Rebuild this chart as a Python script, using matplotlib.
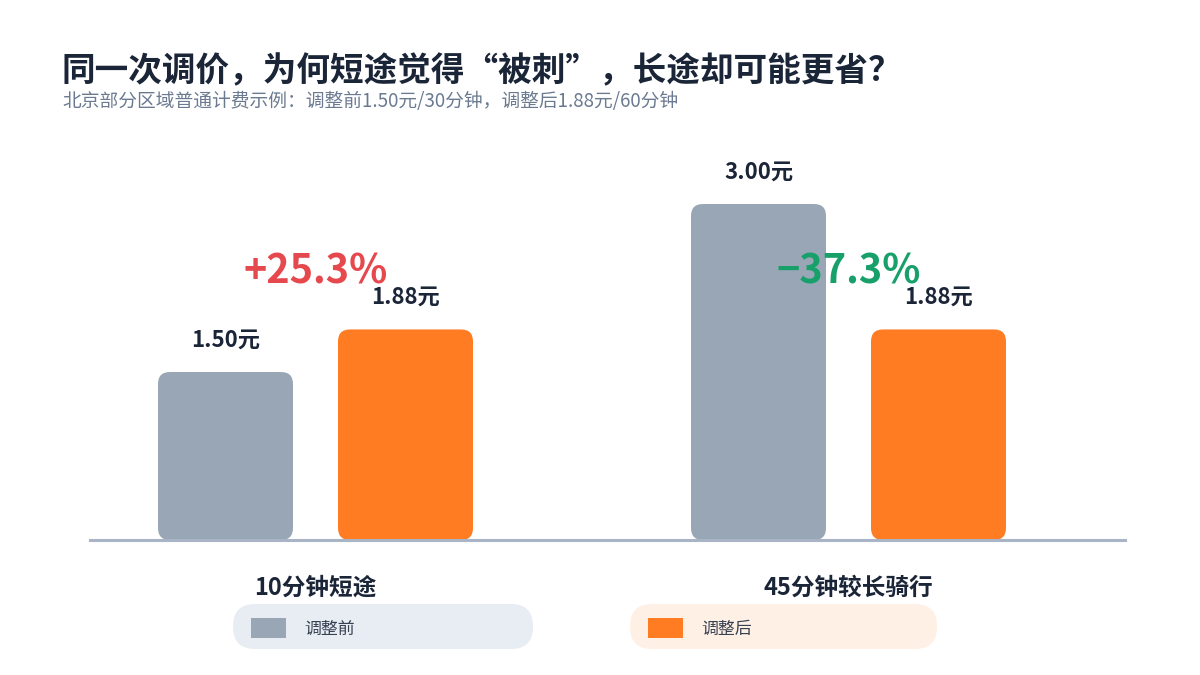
import matplotlib
matplotlib.use("Agg")
import matplotlib.pyplot as plt
from matplotlib.patches import FancyBboxPatch

plt.rcParams['font.family'] = ['Noto Sans CJK SC', 'DejaVu Sans']

# ---- data ----
categories = ["10分钟短途", "45分钟较长骑行"]
before = [1.50, 3.00]
after = [1.88, 1.88]
series_names = ["调整前", "调整后"]
pct_labels = ["+25.3%", "−37.3%"]
title = "同一次调价，为何短途觉得“被刺”，长途却可能更省？"
subtitle = "北京部分区域普通计费示例：调整前1.50元/30分钟，调整后1.88元/60分钟"

# ---- style ----
C_BEFORE = "#98A6B6"
C_AFTER = "#FF7C22"
C_UP = "#E5484D"
C_DOWN = "#17A06A"
C_TEXT = "#1B2538"
C_SUB = "#6B7A90"
C_AXIS = "#A9B5C7"

W, H = 1200, 675
fig = plt.figure(figsize=(12, 6.75), dpi=100)
fig.patch.set_facecolor("white")

# main axes: baseline at y=540px, 112px per unit; x from 90 to 1125 px
ax_left, ax_right = 90, 1125
base_px, top_px = 540, 120
ax = fig.add_axes([ax_left / W, (H - base_px) / H, (ax_right - ax_left) / W, (base_px - top_px) / H])
xpx_per_unit = 533.0
ypx_per_unit = (base_px - top_px) / 3.75
ax.set_xlim(-(315.5 - ax_left) / xpx_per_unit, 1 + (ax_right - 848.5) / xpx_per_unit)
ax.set_ylim(0, 3.75)
ax.axis("off")

off = 90 / xpx_per_unit
bw = 135 / xpx_per_unit
radius_px = 12
r = radius_px / xpx_per_unit
aspect = xpx_per_unit / ypx_per_unit

def rbar(xc, h, color):
    p = FancyBboxPatch((xc - bw / 2, 0), bw, h,
                       boxstyle=f"round,pad=0,rounding_size={r}",
                       mutation_aspect=aspect, facecolor=color, edgecolor="none", zorder=2)
    ax.add_patch(p)

for i, cat in enumerate(categories):
    rbar(i - off, before[i], C_BEFORE)
    rbar(i + off, after[i], C_AFTER)
    for xc, v in ((i - off, before[i]), (i + off, after[i])):
        ax.annotate(f"{v:.2f}元", (xc, v), xytext=(0, 32), textcoords="offset pixels",
                    ha="center", va="center", fontsize=16, fontweight="bold", color=C_TEXT, zorder=4)
    ax.text(i, (base_px - 588) / ypx_per_unit, cat, ha="center", va="center",
            fontsize=17, fontweight="bold", color=C_TEXT, clip_on=False)
    ax.text(i, (base_px - 272) / ypx_per_unit, pct_labels[i], ha="center", va="center",
            fontsize=28.5, fontweight="bold", color=C_UP if i == 0 else C_DOWN, zorder=5)

ax.axhline(0, color=C_AXIS, lw=2.2, zorder=3, clip_on=False)

# title & subtitle
fig.text(62 / W, 1 - 72 / H, title, ha="left", va="center", fontsize=24.2, fontweight="heavy", color=C_TEXT)
fig.text(62 / W, 1 - 102 / H, subtitle, ha="left", va="center", fontsize=13.5, color=C_SUB)

# legend pills (overlay in pixel coordinates)
ov = fig.add_axes([0, 0, 1, 1], zorder=-1)
ov.set_xlim(0, W)
ov.set_ylim(H, 0)
ov.axis("off")
pills = [(233, 300, "#E8EDF4", C_BEFORE, series_names[0]),
         (630, 307, "#FFF0E6", C_AFTER, series_names[1])]
for x0, w, bg, c, name in pills:
    ov.add_patch(FancyBboxPatch((x0, 604), w, 45, boxstyle="round,pad=0,rounding_size=22",
                                facecolor=bg, edgecolor="none"))
    ov.add_patch(plt.Rectangle((x0 + 18, 618), 35, 20, facecolor=c, edgecolor="none"))
    ov.text(x0 + 71, 629, name, ha="left", va="center", fontsize=12.2, color="#374151")

fig.savefig("out.png", dpi=100, facecolor="white")
